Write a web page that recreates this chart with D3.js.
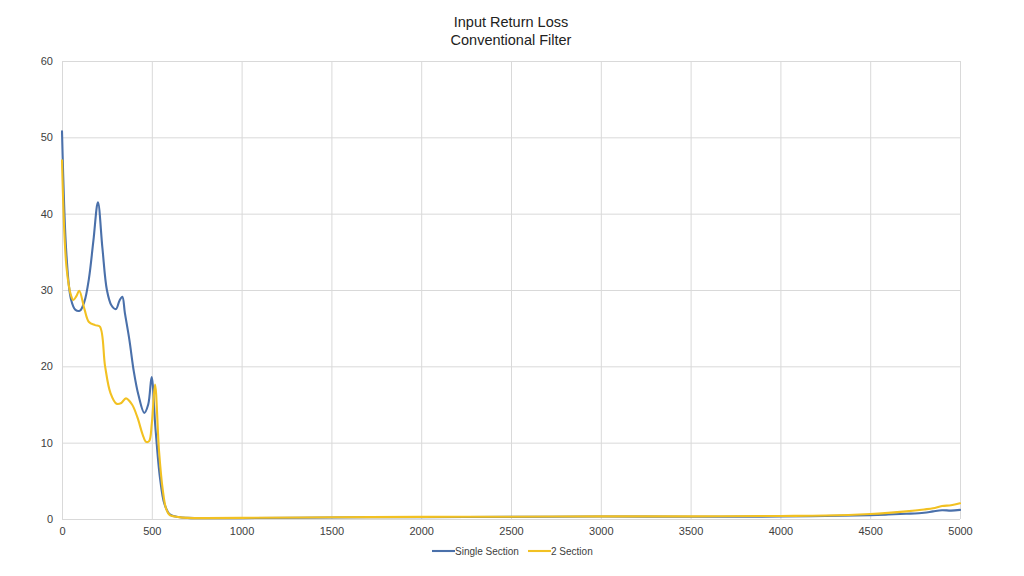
<!DOCTYPE html>
<html>
<head>
<meta charset="utf-8">
<script src="https://cdn.jsdelivr.net/npm/d3@7"></script>
<style>
  body { margin: 0; background: #fff; }
  text { font-family: "Liberation Sans", Arial, sans-serif; }
</style>
</head>
<body>
<svg id="canvas" width="1024" height="576"></svg>
<script>
// frequency points and return loss (dB)
let singleFreq = [0, 25, 50, 75, 100, 125, 150, 175, 200, 225, 250, 275, 300, 320, 336, 350, 375, 400, 425, 458, 480, 499, 520, 545, 570, 600, 650, 700, 800, 1000, 1500, 2000, 2500, 3000, 3500, 4000, 4250, 4500, 4600, 4700, 4800, 4850, 4900, 4950, 5000]
let singleLoss = [50.8, 34.5, 28.8, 27.4, 27.3, 28.5, 31.5, 36.5, 41.5, 35.5, 30, 28, 27.5, 28.6, 29.1, 27, 23.5, 19.3, 16.3, 13.9, 15, 18.6, 12, 5.5, 2, 0.6, 0.25, 0.15, 0.1, 0.12, 0.2, 0.25, 0.28, 0.32, 0.3, 0.32, 0.4, 0.5, 0.58, 0.68, 0.82, 1.0, 1.15, 1.1, 1.2]

let dualFreq = [0, 25, 50, 63, 80, 96, 125, 150, 184, 211, 240, 270, 304, 330, 356, 390, 420, 450, 468, 485, 500, 518, 540, 560, 580, 600, 650, 700, 800, 1000, 1500, 2000, 2500, 3000, 3500, 4000, 4250, 4500, 4600, 4700, 4800, 4850, 4900, 4950, 5000]
let dualLoss = [47, 33, 29.3, 28.7, 29.2, 29.9, 27.5, 25.8, 25.4, 25.2, 20, 16.5, 15.1, 15.2, 15.8, 15, 13.3, 11, 10.1, 10.2, 12.5, 17.6, 9, 4, 1.3, 0.5, 0.25, 0.15, 0.12, 0.15, 0.22, 0.28, 0.3, 0.35, 0.35, 0.4, 0.45, 0.65, 0.8, 1.0, 1.25, 1.4, 1.7, 1.8, 2.05]

let xTicks = [0, 500, 1000, 1500, 2000, 2500, 3000, 3500, 4000, 4500, 5000]
let yTicks = [0, 10, 20, 30, 40, 50, 60]
let seriesNames = ['Single Section', '2 Section']
let seriesColors = ['#4a70aa', '#f2c122']
let titleLines = ['Input Return Loss', 'Conventional Filter']

let canvas = d3.select('#canvas')

let plotLeft = 62, plotRight = 960, plotTop = 61, plotBottom = 519

let xScale = d3.scaleLinear().domain([0, 5000]).range([plotLeft, plotRight])
let yScale = d3.scaleLinear().domain([0, 60]).range([plotBottom, plotTop])

// gridlines
canvas.append('g')
  .selectAll('line')
  .data(yTicks)
  .enter()
  .append('line')
  .attr('x1', plotLeft)
  .attr('x2', plotRight)
  .attr('y1', (d) => yScale(d) + 0.5)
  .attr('y2', (d) => yScale(d) + 0.5)
  .attr('stroke', '#d9d9d9')

canvas.append('g')
  .selectAll('line')
  .data(xTicks)
  .enter()
  .append('line')
  .attr('x1', (d) => xScale(d) + 0.5)
  .attr('x2', (d) => xScale(d) + 0.5)
  .attr('y1', plotTop)
  .attr('y2', plotBottom)
  .attr('stroke', '#d9d9d9')

// axes (labels only)
let xAxis = canvas.append('g')
  .attr('transform', 'translate(0,' + plotBottom + ')')
  .call(d3.axisBottom(xScale).tickValues(xTicks).tickFormat(d3.format('d')).tickSize(0).tickPadding(8))
xAxis.select('.domain').remove()
xAxis.selectAll('text').style('font-size', '11px').style('fill', '#404040')
  .style('font-family', '"Liberation Sans", Arial, sans-serif')

let yAxis = canvas.append('g')
  .attr('transform', 'translate(' + (plotLeft - 9) + ',0)')
  .call(d3.axisLeft(yScale).tickValues(yTicks).tickSize(0).tickPadding(0))
yAxis.select('.domain').remove()
yAxis.selectAll('text').style('font-size', '11px').style('fill', '#404040')
  .style('font-family', '"Liberation Sans", Arial, sans-serif')

// series
let line = d3.line()
  .x((d) => xScale(d[0]))
  .y((d) => yScale(d[1]))
  .curve(d3.curveCatmullRom.alpha(0.5))

let series = [
  d3.zip(singleFreq, singleLoss),
  d3.zip(dualFreq, dualLoss)
]

series.forEach((points, i) => {
  canvas.append('path')
    .datum(points)
    .attr('d', line)
    .attr('fill', 'none')
    .attr('stroke', seriesColors[i])
    .attr('stroke-width', 2.1)
    .attr('stroke-linejoin', 'round')
    .attr('stroke-linecap', 'round')
})

// title
canvas.append('g')
  .selectAll('text')
  .data(titleLines)
  .enter()
  .append('text')
  .text((d) => d)
  .attr('x', (plotLeft + plotRight) / 2)
  .attr('y', (d, i) => 27 + i * 18)
  .attr('text-anchor', 'middle')
  .attr('fill', '#222')
  .style('font-size', '14.5px')

// legend
let legendX = [432, 528]
let legend = canvas.append('g')
  .selectAll('g')
  .data(seriesNames)
  .enter()
  .append('g')
  .attr('transform', (d, i) => 'translate(' + legendX[i] + ',551)')

legend.append('line')
  .attr('x1', 0)
  .attr('x2', 23)
  .attr('stroke', (d, i) => seriesColors[i])
  .attr('stroke-width', 2.1)

legend.append('text')
  .text((d) => d)
  .attr('x', 23)
  .attr('y', 4)
  .attr('fill', '#404040')
  .style('font-size', '10px')
</script>
</body>
</html>
